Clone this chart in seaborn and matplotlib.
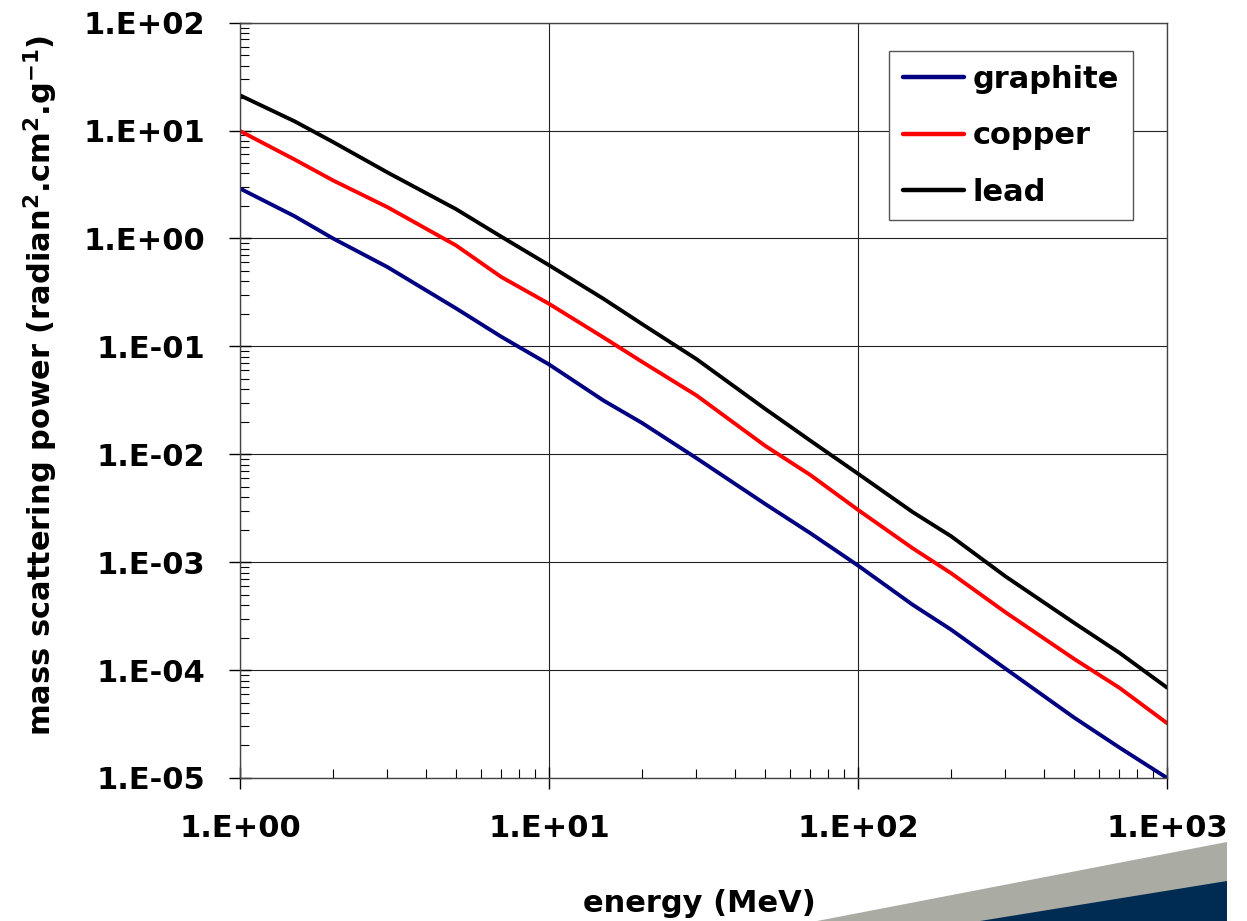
import numpy as np
import pandas as pd
import matplotlib
matplotlib.use("Agg")
import matplotlib.pyplot as plt
from matplotlib.ticker import LogLocator, FuncFormatter, NullFormatter
from matplotlib.patches import Polygon
import seaborn as sns

# energy in MeV (radian^2 cm^2 / g)
energy = [1, 1.5, 2, 3, 5, 7, 10, 15, 20, 30, 50, 70, 100, 150, 200, 300, 500, 700, 1000]
graphite = [2.9, 1.61, 1.0, 0.543, 0.225, 0.123, 0.068, 0.0315, 0.0195, 9.2e-3, 3.47e-3, 1.86e-3,
            9.3e-4, 4.04e-4, 2.37e-4, 1.03e-4, 3.63e-5, 1.92e-5, 1.0e-5]
copper = [9.9, 5.4, 3.45, 1.95, 0.862, 0.44, 0.248, 0.121, 0.0719, 0.0351, 0.012, 6.44e-3,
          3.05e-3, 1.35e-3, 7.9e-4, 3.43e-4, 1.27e-4, 6.87e-5, 3.22e-5]
lead = [21.2, 12.2, 7.83, 4.09, 1.87, 1.04, 0.565, 0.276, 0.161, 0.0762, 0.0264, 0.0134,
        6.6e-3, 2.92e-3, 1.74e-3, 7.38e-4, 2.74e-4, 1.45e-4, 6.87e-5]

materials = ["graphite", "copper", "lead"]
colors = {"graphite": "#000080", "copper": "#ff0000", "lead": "#000000"}

df = pd.DataFrame({
    "energy": energy * 3,
    "power": graphite + copper + lead,
    "material": np.repeat(materials, len(energy)),
})

sns.set_style("white")
plt.rcParams["font.family"] = ["DejaVu Sans"]
plt.rcParams["font.weight"] = "bold"
plt.rcParams["mathtext.default"] = "bf"
plt.rcParams["text.color"] = "black"
plt.rcParams["axes.labelcolor"] = "black"
plt.rcParams["xtick.color"] = "black"
plt.rcParams["ytick.color"] = "black"

fig = plt.figure(figsize=(12.47, 9.21), dpi=100)
ax = fig.add_axes([0.1925, 0.1553, 0.7434, 0.8201])

sns.lineplot(data=df, x="energy", y="power", hue="material", hue_order=materials,
             palette=colors, linewidth=2.8, estimator=None, ax=ax)

ax.set_xscale("log")
ax.set_yscale("log")
ax.set_xlim(1, 1000)
ax.set_ylim(1e-5, 100)

fmt = FuncFormatter(lambda v, pos: f"1.E{int(round(np.log10(v))):+03d}")
for axis in (ax.xaxis, ax.yaxis):
    axis.set_major_locator(LogLocator(base=10, numticks=20))
    axis.set_minor_locator(LogLocator(base=10, subs=np.arange(2, 10), numticks=20))
    axis.set_major_formatter(fmt)
    axis.set_minor_formatter(NullFormatter())

ax.set_axisbelow(True)
ax.grid(True, which="major", color="#222222", linewidth=0.8)
ax.grid(False, which="minor")
for s in ax.spines.values():
    s.set_visible(True)
    s.set_color("#444444")
    s.set_linewidth(1)

ax.tick_params(which="major", direction="inout", length=16, width=1, color="black",
               labelsize=22, labelcolor="black", bottom=True, left=True)
ax.tick_params(axis="y", which="major", pad=17)
ax.tick_params(axis="x", which="major", pad=18)
ax.tick_params(which="minor", direction="in", length=6.5, width=0.8, color="black",
               bottom=True, left=True)

ax.set_xlabel("energy (MeV)", fontsize=22, fontweight="bold", color="black")
ax.set_ylabel(r"mass scattering power (radian$^{2}$.cm$^{2}$.g$^{-1}$)", fontsize=22,
              fontweight="bold", color="black")
ax.xaxis.set_label_coords(0.496, -0.147)
ax.yaxis.set_label_coords(-0.194, 0.52)

handles, labels = ax.get_legend_handles_labels()
leg = ax.legend(handles, labels, loc="upper right", bbox_to_anchor=(0.9633, 0.9625),
                borderaxespad=0, fontsize=22, frameon=True, fancybox=False,
                edgecolor="#555555", framealpha=1, handlelength=2.0, handletextpad=0.3,
                labelspacing=0.9, borderpad=0.45)
for t in leg.get_texts():
    t.set_color("black")
for h in leg.get_lines():
    h.set_linewidth(3.2)

# decorative band in the lower right corner
fig.patches.append(Polygon([(817 / 1247, 0), (1227 / 1247, 79 / 921), (1227 / 1247, 0)],
                           closed=True, transform=fig.transFigure,
                           facecolor="#aaaca4", edgecolor="none"))
fig.patches.append(Polygon([(980 / 1247, 0), (1227 / 1247, 40 / 921), (1227 / 1247, 0)],
                           closed=True, transform=fig.transFigure,
                           facecolor="#002b52", edgecolor="none"))

fig.savefig("out.png", dpi=100)
